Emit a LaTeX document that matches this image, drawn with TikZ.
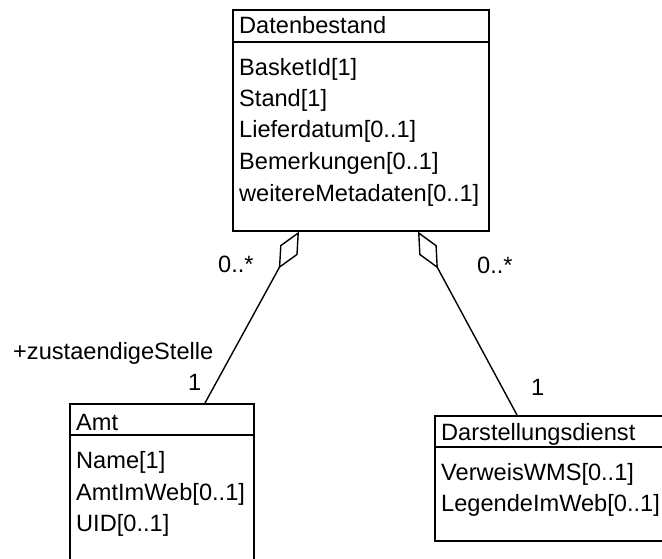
\documentclass[tikz,border=0pt]{standalone}
\usepackage{fontspec}
\setmainfont{Liberation Sans}
\usetikzlibrary{arrows.meta,calc}
\begin{document}
\begin{tikzpicture}[x=1pt,y=-1pt,
  box/.style={draw, line width=1.6pt, rectangle, anchor=north west, inner sep=0pt},
  sep/.style={line width=1.6pt},
  txt/.style={anchor=base west, inner sep=0pt, font=\fontsize{23.6}{28}\selectfont},
  conn/.style={line width=1.4pt},
  agg/.style={-{Diamond[open,length=42pt,width=20pt,line width=1.4pt]}}]
\useasboundingbox (0,0) rectangle (662,558);
\clip (0,0) rectangle (662,558);

% Datenbestand
\node[box, minimum width=256pt, minimum height=221pt] (db) at (232,9) {};
\draw[sep] ($(db.north west)+(0,33)$) -- ($(db.north east)+(0,33)$);
\node[txt] (dbh) at (239,33) {Datenbestand};
\node[txt] (db1) at (239,75) {BasketId[1]};
\node[txt] (db2) at (239,106.5) {Stand[1]};
\node[txt] (db3) at (239,137.5) {Lieferdatum[0..1]};
\node[txt] (db4) at (239,169.5) {Bemerkungen[0..1]};
\node[txt] (db5) at (239,201.5) {weitereMetadaten[0..1]};

% Amt
\node[box, minimum width=184pt, minimum height=200pt] (amt) at (69,403) {};
\draw[sep] ($(amt.north west)+(0,32)$) -- ($(amt.north east)+(0,32)$);
\node[txt] (amth) at (76,430) {Amt};
\node[txt] (amt1) at (76,468) {Name[1]};
\node[txt] (amt2) at (76,500) {AmtImWeb[0..1]};
\node[txt] (amt3) at (76,531.5) {UID[0..1]};

% Darstellungsdienst
\node[box, minimum width=260pt, minimum height=125pt] (dd) at (434,415) {};
\draw[sep] ($(dd.north west)+(0,32)$) -- ($(dd.north east)+(0,32)$);
\node[txt] (ddh) at (441,440) {Darstellungsdienst};
\node[txt] (dd1) at (441,480) {VerweisWMS[0..1]};
\node[txt] (dd2) at (441,511) {LegendeImWeb[0..1]};

% connectors
\coordinate (a1) at ($(db.south west)+(67,0)$);
\coordinate (a2) at ($(amt.north west)+(136,0)$);
\coordinate (b1) at ($(db.south west)+(186,0)$);
\coordinate (b2) at ($(dd.north west)+(83,0)$);
\draw[conn, agg] (a2) -- (a1);
\draw[conn, agg] (b2) -- (b1);

% labels
\node[txt] (m1) at (218,272) {0..*};
\node[txt] (m2) at (477,273) {0..*};
\node[txt] (role) at (13,359) {+zustaendigeStelle};
\node[txt] (m3) at (188,390) {1};
\node[txt] (m4) at (531,395) {1};
\end{tikzpicture}
\end{document}
